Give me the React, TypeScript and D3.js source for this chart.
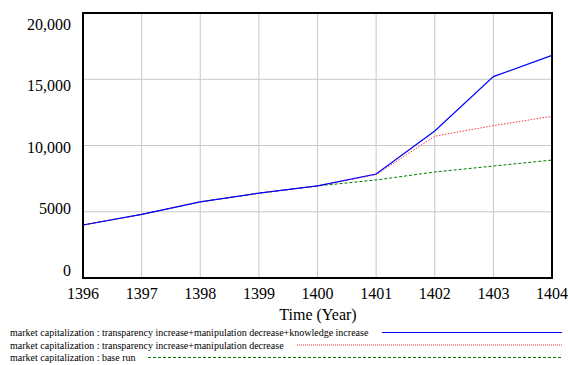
import React from "react";
import * as d3 from "d3";

const years = [1396, 1397, 1398, 1399, 1400, 1401, 1402, 1403, 1404];
const fullScenario = [4000, 4800, 5750, 6400, 6950, 7850, 11100, 15200, 16800];
const transparencyScenario = [4000, 4800, 5750, 6400, 6950, 7800, 10700, 11500, 12200];
const baseRun = [4000, 4800, 5750, 6400, 6950, 7400, 8000, 8450, 8900];
const yTicks = [0, 5000, 10000, 15000, 20000];
const yTickLabels = ["0", "5000", "10,000", "15,000", "20,000"];
const legendLabels = [
  "market capitalization : transparency increase+manipulation decrease+knowledge increase",
  "market capitalization : transparency increase+manipulation decrease",
  "market capitalization : base run",
];

const W = 568, H = 365;
const L = 83, R = 552, T = 13, B = 278;
const FONT = "Liberation Serif, Times New Roman, DejaVu Serif, serif";

export default function App() {
  const x = d3.scaleLinear().domain([1396, 1404]).range([L, R]);
  const y = d3.scaleLinear().domain([0, 20000]).range([B, T]);
  const labelY = d3.scaleLinear().domain([0, 20000]).range([270, 24]);
  const line = d3.line<number>().x((_, i) => x(years[i])).y((d) => y(d));

  const series = [
    { data: fullScenario, color: "#0000ff", dash: "none", legendDash: "none", width: 1.2, legendStart: 382 },
    { data: transparencyScenario, color: "#ff3333", dash: "1.5,1.5", legendDash: "1,1", width: 1, legendStart: 297 },
    { data: baseRun, color: "#007a00", dash: "3,2", legendDash: "3,2", width: 1, legendStart: 148 },
  ];
  const drawOrder = [2, 1, 0];

  return (
    <svg width={W} height={H} style={{ position: "absolute", left: 0, top: 0, background: "#fff", fontFamily: FONT }}>
      {years.map((yr) => (
        <line key={"gx" + yr} x1={x(yr)} x2={x(yr)} y1={T} y2={B} stroke="#c8c8c8" strokeWidth={1} />
      ))}
      {yTicks.map((v) => (
        <line key={"gy" + v} x1={L} x2={R} y1={y(v)} y2={y(v)} stroke="#c8c8c8" strokeWidth={1} />
      ))}
      {drawOrder.map((k) => {
        const s = series[k];
        return (
          <path key={"s" + k} d={line(s.data) || ""} fill="none" stroke={s.color}
            strokeWidth={s.width} strokeDasharray={s.dash} />
        );
      })}
      <rect x={L} y={T} width={R - L} height={B - T} fill="none" stroke="#000" strokeWidth={2} />
      {yTicks.map((v, i) => (
        <text key={"yl" + v} x={71} y={labelY(v)} dy="0.35em" textAnchor="end" fontSize={16} fill="#000">
          {yTickLabels[i]}
        </text>
      ))}
      {years.map((yr) => (
        <text key={"xl" + yr} x={x(yr)} y={293} dy="0.35em" textAnchor="middle" fontSize={16} fill="#000">
          {yr}
        </text>
      ))}
      <text x={318} y={314} dy="0.35em" textAnchor="middle" fontSize={16} fill="#000">Time (Year)</text>
      {legendLabels.map((lab, i) => {
        const s = series[i];
        const ly = 332.5 + i * 12.5;
        return (
          <g key={"lg" + i}>
            <text x={10} y={ly} dy="0.35em" fontSize={10} fill="#000">{lab}</text>
            <line x1={s.legendStart} x2={562} y1={ly} y2={ly} stroke={s.color}
              strokeWidth={1.2} strokeDasharray={s.legendDash} />
          </g>
        );
      })}
    </svg>
  );
}
